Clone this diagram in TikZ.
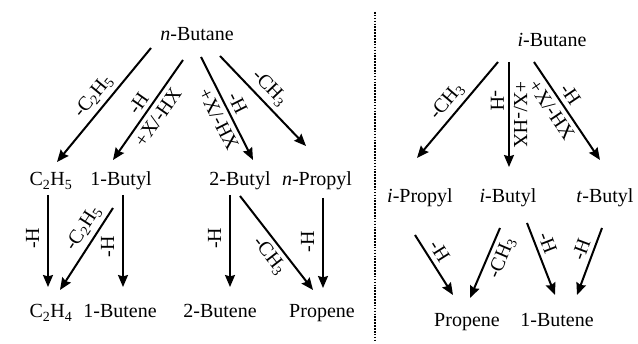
\documentclass[tikz,border=0pt]{standalone}
\usepackage{fontspec}
\setmainfont{Liberation Serif}
\usetikzlibrary{arrows.meta}
\begin{document}
\begin{tikzpicture}[x=1pt,y=-1pt,
  chem/.style={anchor=base, inner sep=0pt, font=\fontsize{20}{24}\selectfont},
  arr/.style={line width=2pt, -{Stealth[length=12pt,width=10pt,inset=1.5pt]}},
  lab/.style={font=\fontsize{20}{24}\selectfont, inner sep=4.5pt},
  vlab/.style={font=\fontsize{20}{24}\selectfont, inner sep=8pt},
  vlabr/.style={font=\fontsize{20}{24}\selectfont, inner sep=4pt},
  sep/.style={line width=1.6pt, dash pattern=on 1.6pt off 1.3pt}
]
\useasboundingbox (0,0) rectangle (638,344);
% left panel nodes
\node[chem] (nb)   at (197,41)  {\textit{n}-Butane};
\node[chem] (c2h5) at (51,186)  {C\textsubscript{2}H\textsubscript{5}};
\node[chem] (b1)   at (121,186) {1-Butyl};
\node[chem] (b2)   at (240,186) {2-Butyl};
\node[chem] (np)   at (317,186) {\textit{n}-Propyl};
\node[chem] (c2h4) at (51,318)  {C\textsubscript{2}H\textsubscript{4}};
\node[chem] (bt1)  at (120,318) {1-Butene};
\node[chem] (bt2)  at (220,318) {2-Butene};
\node[chem] (pr)   at (322,318) {Propene};
% right panel nodes
\node[chem] (ib)   at (552,47)  {\textit{i}-Butane};
\node[chem] (ipr)  at (420,203) {\textit{i}-Propyl};
\node[chem] (ibu)  at (508,203) {\textit{i}-Butyl};
\node[chem] (tbu)  at (605,203) {\textit{t}-Butyl};
\node[chem] (pr2)  at (467,327) {Propene};
\node[chem] (bt1r) at (557,327) {1-Butene};
% separator
\coordinate (s1) at (375,12);
\coordinate (s2) at (375,342);
\draw[sep] (s1) -- (s2);
% left arrows
\draw[arr] ([shift={(-46,7)}]nb.base) -- ([shift={(6,-24)}]c2h5.base)
  node[lab, midway, sloped, above] {-C\textsubscript{2}H\textsubscript{5}};
\draw[arr] ([shift={(-14,19)}]nb.base) -- ([shift={(-8,-26)}]b1.base)
  node[lab, pos=0.5, sloped, above] {-H}
  node[lab, pos=0.5, sloped, below] {+X/-HX};
\draw[arr] ([shift={(4,16)}]nb.base) -- ([shift={(13,-26)}]b2.base)
  node[lab, pos=0.55, sloped, below] {+X/-HX}
  node[lab, pos=0.5, sloped, above] {-H};
\draw[arr] ([shift={(23,15)}]nb.base) -- ([shift={(-11,-40)}]np.base)
  node[lab, pos=0.46, sloped, above] {-CH\textsubscript{3}};
\draw[arr] ([shift={(-3,9)}]c2h5.base) -- ([shift={(-3,-31)}]c2h4.base)
  node[vlab, pos=0.47, rotate=90, anchor=south] {-H};
\draw[arr] ([shift={(-8,22)}]b1.base) -- ([shift={(9,-28)}]c2h4.base)
  node[lab, pos=0.34, sloped, above] {-C\textsubscript{2}H\textsubscript{5}};
\draw[arr] ([shift={(2,9)}]b1.base) -- ([shift={(3,-31)}]bt1.base)
  node[vlab, pos=0.56, rotate=90, anchor=south] {-H};
\draw[arr] ([shift={(-10,9)}]b2.base) -- ([shift={(10,-31)}]bt2.base)
  node[vlab, pos=0.47, rotate=90, anchor=south] {-H};
\draw[arr] ([shift={(0,10)}]b2.base) -- ([shift={(-9,-28)}]pr.base)
  node[lab, pos=0.55, sloped, below] {-CH\textsubscript{3}};
\draw[arr] ([shift={(6,12)}]np.base) -- ([shift={(1,-30)}]pr.base)
  node[vlab, pos=0.49, rotate=90, anchor=south] {-H};
% right arrows
\draw[arr] ([shift={(-54,15)}]ib.base) -- ([shift={(-3,-45)}]ipr.base)
  node[lab, pos=0.5, sloped, above] {-CH\textsubscript{3}};
\draw[arr] ([shift={(-43,15)}]ib.base) -- ([shift={(1,-36)}]ibu.base)
  node[vlabr, pos=0.37, rotate=-90, anchor=north] {-H}
  node[vlabr, pos=0.5, rotate=-90, anchor=south] {+X/-HX};
\draw[arr] ([shift={(-18,15)}]ib.base) -- ([shift={(-5,-43)}]tbu.base)
  node[lab, pos=0.42, sloped, below] {+X/-HX}
  node[lab, pos=0.4, sloped, above] {-H};
\draw[arr] ([shift={(-5,32)}]ipr.base) -- ([shift={(-14,-32)}]pr2.base)
  node[lab, pos=0.38, sloped, above] {-H};
\draw[arr] ([shift={(-8,25)}]ibu.base) -- ([shift={(3,-29)}]pr2.base)
  node[lab, pos=0.35, sloped, below] {-CH\textsubscript{3}};
\draw[arr] ([shift={(19,20)}]ibu.base) -- ([shift={(-2,-32)}]bt1r.base)
  node[lab, pos=0.34, sloped, above] {-H};
\draw[arr] ([shift={(-3,25)}]tbu.base) -- ([shift={(20,-32)}]bt1r.base)
  node[lab, pos=0.38, sloped, above] {-H};
\end{tikzpicture}
\end{document}
